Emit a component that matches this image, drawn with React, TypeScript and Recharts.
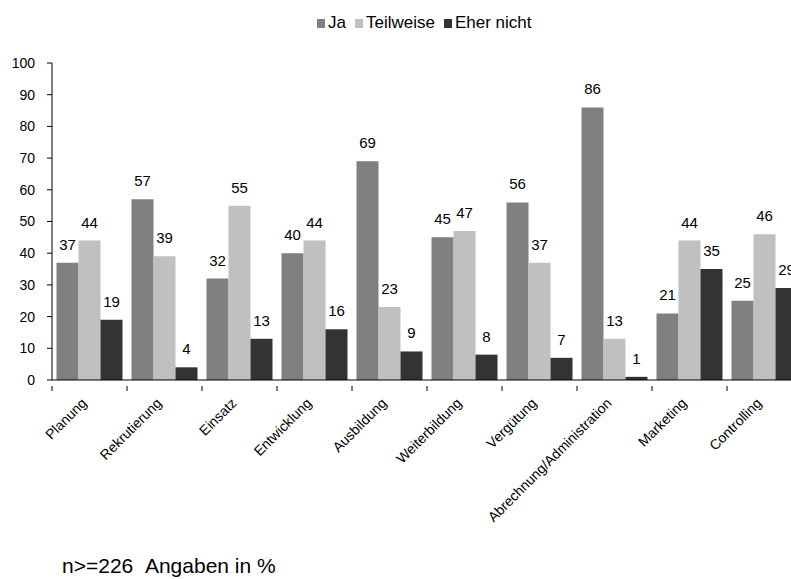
import React from 'react';
import { BarChart, Bar, XAxis, YAxis, Legend, LabelList } from 'recharts';

const categories = [
  'Planung',
  'Rekrutierung',
  'Einsatz',
  'Entwicklung',
  'Ausbildung',
  'Weiterbildung',
  'Vergütung',
  'Abrechnung/Administration',
  'Marketing',
  'Controlling',
];
const ja = [37, 57, 32, 40, 69, 45, 56, 86, 21, 25];
const teilweise = [44, 39, 55, 44, 23, 47, 37, 13, 44, 46];
const eherNicht = [19, 4, 13, 16, 9, 8, 7, 1, 35, 29];
const yTicks = [0, 10, 20, 30, 40, 50, 60, 70, 80, 90, 100];

const series = [
  { key: 'ja', name: 'Ja', color: '#808080' },
  { key: 'teilweise', name: 'Teilweise', color: '#c0c0c0' },
  { key: 'eherNicht', name: 'Eher nicht', color: '#333333' },
];

const data = categories.map((name, i) => ({
  name,
  ja: ja[i],
  teilweise: teilweise[i],
  eherNicht: eherNicht[i],
}));

const FONT = '"Liberation Sans", Arial, sans-serif';
const CHART_W = 810;
const CHART_H = 579;
const MARGIN = { top: 43, right: 8, bottom: 9, left: 12 };
const Y_AXIS_W = 40;
const PLOT_W = CHART_W - MARGIN.left - MARGIN.right - Y_AXIS_W;
const HALF_BAND = PLOT_W / categories.length / 2;

// Excel-style category axis: tick marks sit between the groups
const CategoryTick = (props: any) => {
  const { x, y, payload } = props;
  const tx = x - 2;
  const ty = y + 16;
  return (
    <g>
      <line x1={x - HALF_BAND} x2={x - HALF_BAND} y1={y - 2} y2={y + 3} stroke="#000" />
      <text
        x={tx}
        y={ty}
        textAnchor="end"
        fontSize={14}
        fontFamily={FONT}
        fill="#000"
        transform={`rotate(-45, ${tx}, ${ty})`}
      >
        {payload.value}
      </text>
    </g>
  );
};

const LegendContent = () => (
  <div style={{ display: 'flex', alignItems: 'center', fontFamily: FONT, fontSize: 17, color: '#000' }}>
    {series.map((s) => (
      <span key={s.key} style={{ display: 'flex', alignItems: 'center', marginRight: 9 }}>
        <span style={{ width: 8, height: 9, background: s.color, display: 'inline-block', marginRight: 3 }} />
        {s.name}
      </span>
    ))}
  </div>
);

export default function App() {
  return (
    <div
      style={{
        position: 'absolute',
        left: 0,
        top: 0,
        width: 791,
        height: 579,
        overflow: 'hidden',
        background: '#fff',
      }}
    >
      <BarChart
        width={CHART_W}
        height={CHART_H}
        data={data}
        margin={MARGIN}
        barCategoryGap="6%"
        barGap={0}
      >
        <Legend
          verticalAlign="top"
          content={<LegendContent />}
          wrapperStyle={{ left: 317, top: 13, width: 'auto' }}
        />
        <XAxis
          dataKey="name"
          interval={0}
          axisLine={{ stroke: '#000' }}
          tickLine={false}
          tick={<CategoryTick />}
          height={190}
        />
        <YAxis
          domain={[0, 100]}
          ticks={yTicks}
          width={Y_AXIS_W}
          axisLine={{ stroke: '#000' }}
          tickLine={{ stroke: '#000' }}
          tickSize={5}
          tickMargin={12}
          tick={{ fill: '#000', fontSize: 14, fontFamily: FONT }}
        />
        {series.map((s) => (
          <Bar key={s.key} dataKey={s.key} name={s.name} fill={s.color} isAnimationActive={false}>
            <LabelList
              dataKey={s.key}
              position="top"
              offset={13}
              fill="#000"
              fontSize={15}
              fontFamily={FONT}
            />
          </Bar>
        ))}
      </BarChart>
      <div
        style={{
          position: 'absolute',
          left: 62,
          top: 554,
          fontFamily: FONT,
          fontSize: 21,
          color: '#000',
          whiteSpace: 'nowrap',
        }}
      >
        n&gt;=226&nbsp;&nbsp;Angaben in %
      </div>
    </div>
  );
}
